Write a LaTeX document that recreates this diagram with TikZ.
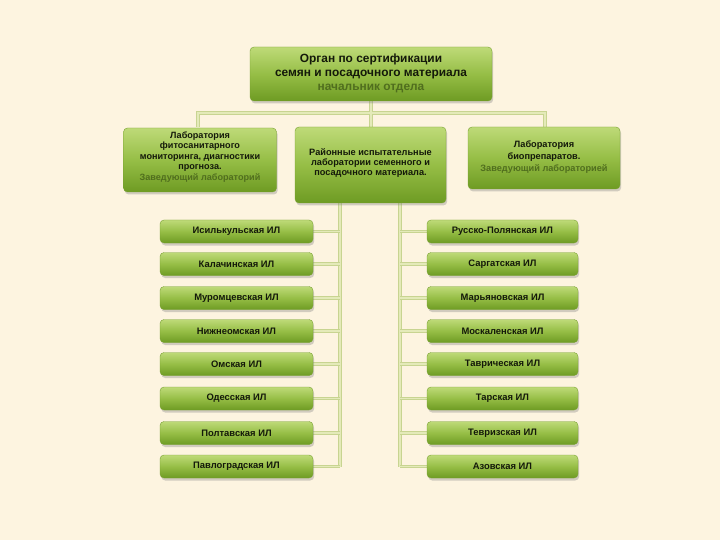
\documentclass[tikz,border=0pt]{standalone}
\usepackage{fontspec}
\setmainfont{Liberation Sans}
\usetikzlibrary{shadows}
\definecolor{bg}{RGB}{253,244,224}
\definecolor{boxtop}{RGB}{190,218,120}
\definecolor{boxmid}{RGB}{150,190,70}
\definecolor{boxbot}{RGB}{110,155,35}
\definecolor{boxedge}{RGB}{120,160,50}
\definecolor{txt}{RGB}{20,25,10}
\definecolor{subtxt}{RGB}{80,110,30}
\definecolor{lineout}{RGB}{200,212,145}
\definecolor{linein}{RGB}{228,234,185}
\tikzset{
  gbox/.style={draw=boxedge, line width=0.4pt, rounded corners=4pt,
    top color=boxtop, bottom color=boxbot, middle color=boxmid,
    drop shadow={opacity=0.35, shadow xshift=1.2pt, shadow yshift=-2.5pt},
    text=txt, font=\bfseries, align=center, inner sep=0pt},
  ilbox/.style={gbox, minimum width=153pt, minimum height=23pt, font=\bfseries\fontsize{9.4}{11}\selectfont},
  btxt/.style={text=txt, font=\bfseries\fontsize{9.1}{10.5}\selectfont, align=center, inner sep=0pt},
  conn/.style={draw=lineout, line width=3.4pt},
  connin/.style={draw=linein, line width=1.8pt},
}
\begin{document}
\begin{tikzpicture}[x={(1pt,0)}, y={(0,-1pt)}]
\fill[bg] (0,0) rectangle (720,540);
\useasboundingbox (0,0) rectangle (720,540);
% connectors (drawn first, under boxes)
\foreach \s in {conn,connin}{
  \draw[\s] (371,101) -- (371,113);
  \draw[\s] (198,127) -- (198,113) -- (545,113) -- (545,127);
  \draw[\s] (371,113) -- (371,127);
  \draw[\s] (340,203) -- (340,466.5);
  \draw[\s] (400,203) -- (400,466.5);
}
% top box
\node[gbox, minimum width=242pt, minimum height=54pt] (top) at (371,74) {};
\node[text=txt, font=\bfseries\fontsize{11.9}{14}\selectfont, align=center, inner sep=0pt] at (371,73.5)
 {Орган по сертификации\\семян и посадочного материала\\\textcolor{subtxt}{начальник отдела}};
% second row
\node[gbox, minimum width=153pt, minimum height=64pt] (l1) at (200,160) {};
\node[btxt] at (200,157) {Лаборатория\\фитосанитарного\\мониторинга, диагностики\\прогноза.\\\textcolor{subtxt}{Заведующий лабораторий}};
\node[gbox, minimum width=151pt, minimum height=76pt] (m1) at (370.5,165) {};
\node[btxt, font=\bfseries\fontsize{9.2}{10.2}\selectfont] at (370.5,163) {Районные испытательные\\лаборатории семенного и\\посадочного материала.};
\node[gbox, minimum width=152pt, minimum height=62pt] (r1) at (544,158) {};
\node[btxt, font=\bfseries\fontsize{9.2}{12}\selectfont] at (544,157) {Лаборатория\\биопрепаратов.\\\textcolor{subtxt}{Заведующий лабораторией}};
% left and right columns
\foreach \i/\y/\ln/\rn in {
  1/231.5/Исилькульская ИЛ/Русско-Полянская ИЛ,
  2/264/Калачинская ИЛ/Саргатская ИЛ,
  3/298/Муромцевская ИЛ/Марьяновская ИЛ,
  4/331/Нижнеомская ИЛ/Москаленская ИЛ,
  5/364/Омская ИЛ/Таврическая ИЛ,
  6/398.5/Одесская ИЛ/Тарская ИЛ,
  7/433/Полтавская ИЛ/Тевризская ИЛ,
  8/466.5/Павлоградская ИЛ/Азовская ИЛ}{
  \foreach \s in {conn,connin}{
    \draw[\s] (313,\y) -- (340,\y);
    \draw[\s] (400,\y) -- (427,\y);
  }
  \node[ilbox] (L\i) at (236.5,\y) {\ln};
  \node[ilbox, minimum width=151pt] (R\i) at (502.5,\y) {\rn};
}
\end{tikzpicture}
\end{document}
